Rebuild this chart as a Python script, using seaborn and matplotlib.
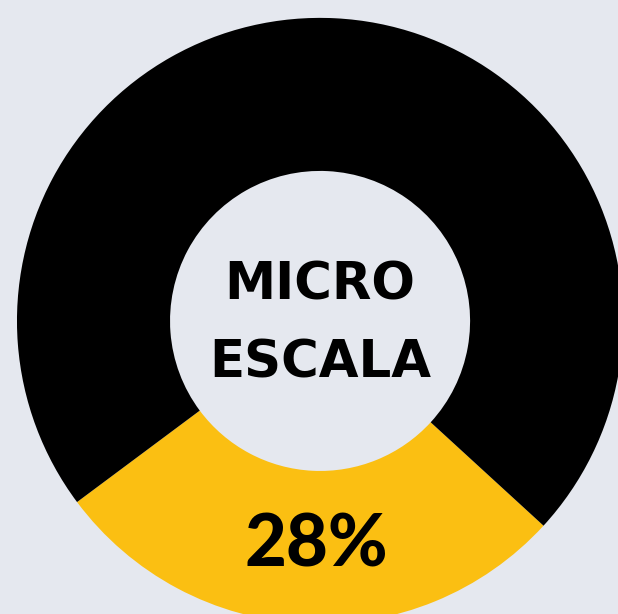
import matplotlib
matplotlib.use("Agg")
import matplotlib.pyplot as plt
import seaborn as sns

# Data
categories = ["Micro escala", "Resto"]
values = [28, 72]
center_lines = ["MICRO", "ESCALA"]
pct_label = "28%"

colors = ["#fbbf12", "#000000"]
bg = "#e5e8ef"

sns.set_theme(style="white")
plt.rcParams["font.family"] = ["DejaVu Sans"]

fig = plt.figure(figsize=(6.18, 6.14), dpi=100, facecolor=bg)
ax = fig.add_axes([0, 0, 1, 1])
ax.set_facecolor(bg)

ax.pie(values, colors=colors, startangle=216.7, counterclock=True,
       radius=1.0, wedgeprops=dict(width=0.505, edgecolor="none"))
ax.set_aspect("auto")
ax.set_xlim(-1.056, 0.983)
ax.set_ylim(-0.967, 1.059)
ax.axis("off")

ax.text(0, 0.0693, center_lines[0], ha="center", va="baseline",
        fontsize=37, fontweight="bold", color="black")
ax.text(0, -0.188, center_lines[1], ha="center", va="baseline",
        fontsize=37, fontweight="bold", color="black")
ax.text(-0.011, -0.8106, pct_label, ha="center", va="baseline",
        fontsize=52, fontweight="black", color="black", family=["Lato", "DejaVu Sans"])

fig.savefig("out.png", dpi=100, facecolor=bg)
